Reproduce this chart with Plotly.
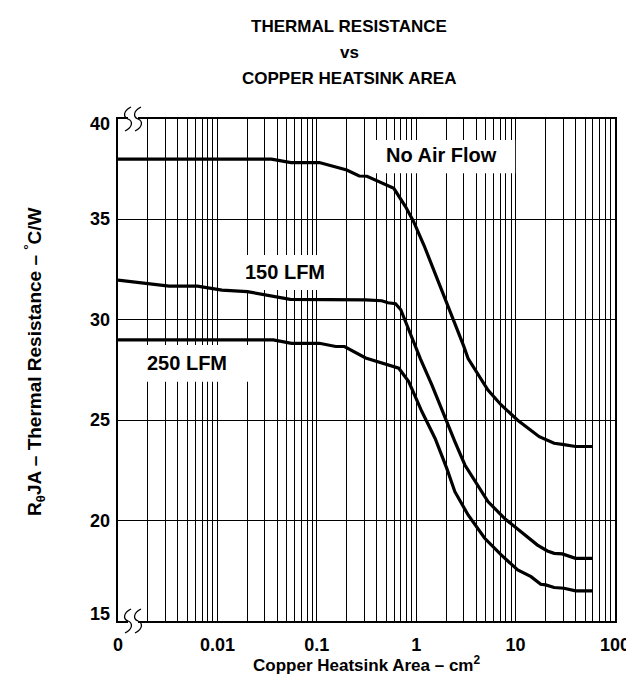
import math
import plotly.graph_objects as go

# ---------------- data ----------------
area_noair = [0.001, 0.01, 0.035, 0.055, 0.106, 0.2, 0.267, 0.32, 0.49, 0.595, 0.78, 0.94,
              1.2, 1.5, 2.0, 2.5, 3.0, 3.33, 5.27, 7.16, 10.5, 17.3, 24.4, 29.5, 40.1, 58.7]
rth_noair = [38.0, 38.0, 38.0, 37.83, 37.83, 37.46, 37.16, 37.15, 36.71, 36.55, 35.64, 34.9,
             33.7, 32.5, 30.9, 29.7, 28.7, 28.07, 26.5, 25.76, 25.0, 24.18, 23.85, 23.8, 23.69, 23.69]

area_150 = [0.001, 0.00327, 0.0063, 0.0111, 0.02, 0.054, 0.31, 0.45, 0.52, 0.62, 0.7, 0.8, 0.9,
            1.1, 1.44, 1.95, 2.45, 3.09, 4.03, 5.27, 7.73, 11.4, 16.6, 20.9, 24.4, 29.5, 40.1, 58.7]
rth_150 = [31.98, 31.68, 31.68, 31.48, 31.4, 31.02, 30.99, 30.95, 30.85, 30.8, 30.5, 29.8, 29.1,
           28.07, 26.75, 25.09, 23.93, 22.77, 21.86, 20.95, 20.11, 19.45, 18.78, 18.49, 18.37, 18.34, 18.12, 18.12]

area_250 = [0.001, 0.0365, 0.0557, 0.106, 0.155, 0.19, 0.31, 0.473, 0.668, 0.84, 1.14, 1.55, 2.03,
            2.45, 3.33, 4.89, 7.16, 10.5, 14.3, 17.9, 20.1, 24.4, 30.7, 40.1, 58.7]
rth_250 = [29.0, 29.0, 28.83, 28.83, 28.67, 28.67, 28.1, 27.83, 27.59, 26.92, 25.43, 24.09, 22.6,
           21.44, 20.28, 19.12, 18.29, 17.54, 17.21, 16.83, 16.8, 16.67, 16.63, 16.5, 16.5]

series_names = ["No Air Flow", "150 LFM", "250 LFM"]

x_major_vals = [0.001, 0.01, 0.1, 1, 10, 100]
x_major_text = ["0", "0.01", "0.1", "1", "10", "100"]
x_minor_vals = [m * 10 ** e for e in range(-3, 2) for m in range(2, 10)]
y_tick_vals = [15, 20, 25, 30, 35, 40]

# label positions (data coords) and white label boxes
label_x = [1.78, 0.0484, 0.00496]
label_y = [38.23, 32.4, 27.83]
box_x0 = [0.33, 0.015, 0.00105]
box_x1 = [9.9, 0.163, 0.0249]
box_y0 = [37.3, 31.48, 26.92]
box_y1 = [38.95, 33.23, 28.75]

# ---------------- figure ----------------
FONT = "Liberation Sans, Arial, Helvetica, sans-serif"
fig = go.Figure()
for xs, ys, nm in [(area_noair, rth_noair, series_names[0]),
                   (area_150, rth_150, series_names[1]),
                   (area_250, rth_250, series_names[2])]:
    fig.add_trace(go.Scatter(x=xs, y=ys, mode="lines", name=nm,
                             line=dict(color="black", width=3.2), showlegend=False,
                             hoverinfo="skip"))

fig.update_xaxes(type="log", range=[-3, 2], tickvals=x_major_vals, ticktext=x_major_text,
                 showgrid=True, gridcolor="black", gridwidth=1, ticks="",
                 minor=dict(tickvals=x_minor_vals, showgrid=True, gridcolor="black",
                            gridwidth=1, ticks=""),
                 showline=True, linecolor="black", linewidth=2, mirror=True,
                 tickfont=dict(family=FONT, size=18, color="black", weight="bold"),
                 ticklabelstandoff=6, zeroline=False)
fig.update_yaxes(range=[15, 40], tickvals=y_tick_vals, showticklabels=False,
                 showgrid=True, gridcolor="black", gridwidth=1, ticks="",
                 showline=True, linecolor="black", linewidth=2, mirror=True, zeroline=False)

shapes = []
for i in range(3):
    shapes.append(dict(type="rect", xref="x", yref="y", x0=box_x0[i], x1=box_x1[i],
                       y0=box_y0[i], y1=box_y1[i], fillcolor="white",
                       line=dict(width=0), layer="between"))

# axis break marks
for ya in [0, 1]:
    shapes.append(dict(type="rect", xref="paper", yref="paper", xsizemode="pixel",
                       ysizemode="pixel", xanchor=0, yanchor=ya, x0=10, x1=20, y0=-3, y1=3,
                       fillcolor="white", line=dict(width=0), layer="above"))
    for off in [10, 20]:
        p = "M {},{} C {},{} {},{} {},{} C {},{} {},{} {},{}".format(
            off + 3, 12, off - 5, 8, off - 5, 2, off, 0, off + 5, -2, off + 5, -8, off - 3, -12)
        shapes.append(dict(type="path", xref="paper", yref="paper", xsizemode="pixel",
                           ysizemode="pixel", xanchor=0, yanchor=ya, path=p,
                           line=dict(color="black", width=1.3), layer="above"))

annotations = []
for i in range(3):
    annotations.append(dict(x=math.log10(label_x[i]), y=label_y[i], xref="x", yref="y",
                            text=series_names[i], showarrow=False,
                            font=dict(family=FONT, size=20, color="black", weight="bold")))

# y tick labels
for v in y_tick_vals:
    shift = 0
    if v == 40:
        shift = -5
    elif v == 15:
        shift = 7
    annotations.append(dict(x=0, y=v, xref="paper", yref="y", text=str(v), showarrow=False,
                            xanchor="right", yanchor="middle", xshift=-6, yshift=shift,
                            font=dict(family=FONT, size=18, color="black", weight="bold")))

# titles
title_lines = ["THERMAL RESISTANCE", "vs", "COPPER HEATSINK AREA"]
for k, t in enumerate(title_lines):
    annotations.append(dict(x=0.465, y=1.0, xref="paper", yref="paper", text=t, showarrow=False,
                            xanchor="center", yanchor="middle", yshift=93 - 26 * k,
                            font=dict(family=FONT, size=17, color="black", weight="bold")))

annotations.append(dict(x=0.5, y=0, xref="paper", yref="paper",
                        text="Copper Heatsink Area – cm<sup>2</sup>", showarrow=False,
                        xanchor="center", yanchor="middle", yshift=-43,
                        font=dict(family=FONT, size=17, color="black", weight="bold")))
annotations.append(dict(x=0, y=0.5, xref="paper", yref="paper",
                        text="R<sub>θ</sub>JA – Thermal Resistance – <sup>°</sup>C/W", showarrow=False,
                        xanchor="center", yanchor="middle", xshift=-84, yshift=8, textangle=-90,
                        font=dict(family=FONT, size=19, color="black", weight="bold")))

fig.update_layout(width=634, height=675, margin=dict(l=110, r=22, t=111, b=62),
                  plot_bgcolor="white", paper_bgcolor="white", shapes=shapes,
                  annotations=annotations, showlegend=False)

fig.write_html("out.html")
